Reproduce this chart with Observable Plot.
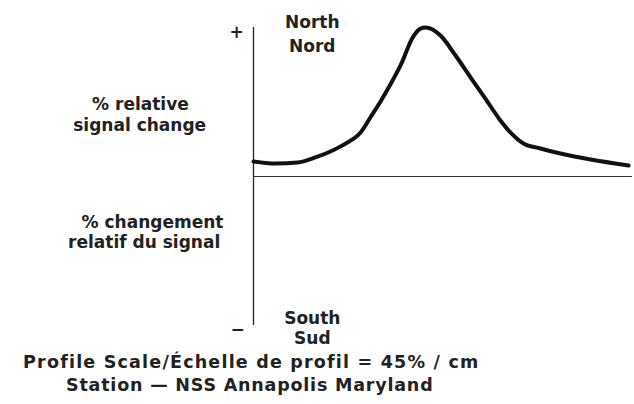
<!DOCTYPE html>
<html>
<head>
<meta charset="utf-8">
<script src="https://cdn.jsdelivr.net/npm/d3@7"></script>
<script src="https://cdn.jsdelivr.net/npm/@observablehq/plot@0.6"></script>
<style>
  html, body { margin: 0; padding: 0; background: #fff; }
  #chart { width: 634px; height: 404px; }
</style>
</head>
<body>
<div id="chart"></div>
<script>
// Profile curve (position along profile, % relative signal change, arbitrary units)
const profileX = [0, 3.2, 5.8, 11.7, 16.4, 20.4, 24.4, 28.4, 31.0, 33.7, 36.3, 39.0, 42.4, 44.3, 45.6, 47.5, 49.6, 53.6, 57.6, 61.5, 65.3, 68.4, 71.6, 76.1, 81.4, 89.4, 99.5];
const profileY = [10.1, 9.1, 8.7, 9.4, 12.8, 16.8, 22.1, 29.5, 39.6, 50.3, 61.7, 74.5, 94.0, 99.3, 100, 98.7, 94.6, 81.2, 66.4, 52.3, 38.3, 28.9, 22.1, 18.8, 15.4, 11.4, 7.4];

// Annotation texts and their anchor points in data units
const labelText = ["North", "Nord", "South", "Sud", "% relative", "signal change", "% changement", "relatif du signal", "+", "\u2212"];
const labelX = [15.6, 15.6, 15.6, 15.6, -30.0, -30.2, -26.8, -29.0, -4.5, -4.2];
const labelY = [103.0, 86.9, -95.0, -108.7, 48.0, 33.9, -31.2, -44.6, 96.6, -102.7];

const captionText = ["Profile Scale/\u00c9chelle de profil = 45% / cm", "Station \u2014 NSS Annapolis Maryland"];
const captionX = [-0.6, -1.0];
const captionY = [-124.5, -140.5];

const profile = profileX.map((x, i) => ({x, y: profileY[i]}));
const labels = labelText.map((t, i) => ({t, x: labelX[i], y: labelY[i]}));
const captions = captionText.map((t, i) => ({t, x: captionX[i], y: captionY[i]}));

const chart = Plot.plot({
  width: 634,
  height: 404,
  marginLeft: 253,
  marginRight: 4,
  marginTop: 27,
  marginBottom: 79,
  x: {domain: [0, 100], axis: null},
  y: {domain: [-100, 100], axis: null},
  style: {background: "#fff", fontFamily: "DejaVu Sans", color: "#111"},
  marks: [
    Plot.ruleX([0], {y1: -100, y2: 100, stroke: "#222", strokeWidth: 1.3}),
    Plot.ruleY([0], {x1: 0, x2: 100.5, stroke: "#333", strokeWidth: 1.2}),
    Plot.line(profile, {x: "x", y: "y", curve: "monotone-x", stroke: "#111", strokeWidth: 4, strokeLinejoin: "round", strokeLinecap: "round"}),
    Plot.text(labels, {x: "x", y: "y", text: "t", fontSize: 17, fontWeight: "bold", fill: "#222"}),
    Plot.text(captions, {x: "x", y: "y", text: "t", fontSize: 17.5, fontWeight: "bold", fill: "#222"})
  ]
});
// widen the caption lettering like the reference's wide stencil font
d3.select(chart).selectAll("text").each(function () {
  const t = this.textContent;
  if (t === captionText[0]) this.style.letterSpacing = "1.2px";
  else if (t === captionText[1]) this.style.letterSpacing = "0.8px";
});
document.getElementById("chart").appendChild(chart);
</script>
</body>
</html>
